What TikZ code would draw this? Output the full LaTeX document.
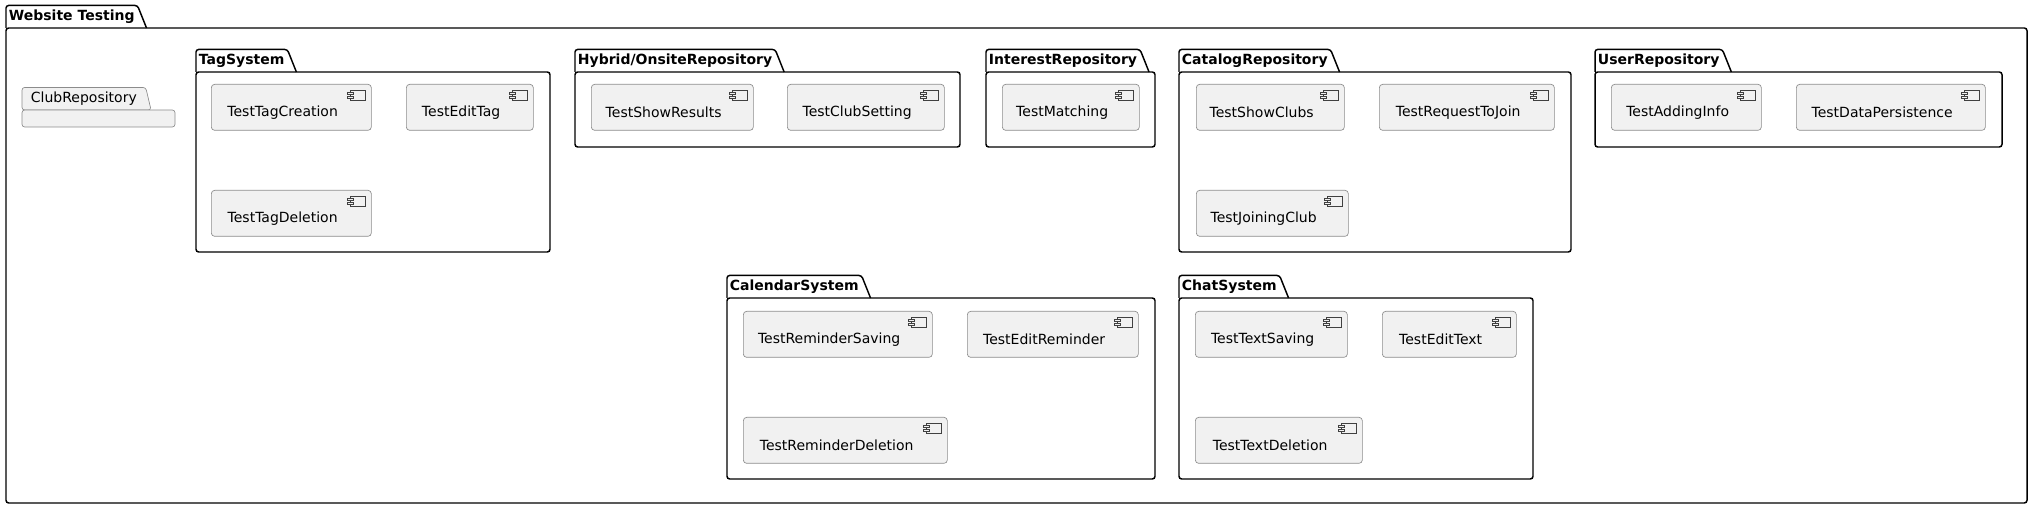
\documentclass[tikz,border=0pt]{standalone}
\usepackage{fontspec}
\setmainfont{DejaVu Sans}
\usetikzlibrary{positioning,calc,backgrounds}
\definecolor{compfill}{HTML}{F1F1F1}
\definecolor{compline}{HTML}{8C8C8C}
\newcommand{\ctext}[1]{\raisebox{-3.75pt}[\height][\depth]{#1}\hspace*{13pt}}

\begin{document}
\begin{tikzpicture}[x=0.75pt,y=-0.75pt,font=\fontsize{10.5pt}{12.6pt}\selectfont,
  pkgline/.style={draw=black,line width=1.1pt,rounded corners=2pt},
  pkgtitle/.style={anchor=south west,inner xsep=2pt,inner ysep=0pt,minimum height=16.5pt,font=\bfseries\fontsize{10.5pt}{12.6pt}\selectfont},
  icon/.style={draw=black!75,fill=compfill,line width=0.4pt,sharp corners},
  comp/.style={anchor=north west,draw=compline,fill=compfill,line width=0.5pt,rounded corners=2.5pt,minimum height=34.5pt,inner sep=0pt,
    path picture={\coordinate (ne) at (path picture bounding box.north east);
      \draw[icon] ($(ne)+(-15.75pt,-4.5pt)$) rectangle ($(ne)+(-4.5pt,-12pt)$);
      \draw[icon] ($(ne)+(-18pt,-6pt)$) rectangle ($(ne)+(-13.5pt,-7.8pt)$);
      \draw[icon] ($(ne)+(-18pt,-9pt)$) rectangle ($(ne)+(-13.5pt,-10.8pt)$);}}]
\useasboundingbox (0,0) rectangle (2032,509);

% outer package
\node[pkgtitle] (web) at (6,28) {Website Testing};
\draw[pkgline] (web.south west) -- (web.north west) -- (web.north east) -- ([xshift=6.75pt]web.south east);
\draw[pkgline] (6,28) rectangle (2027,503);

% empty package
\node[pkgtitle,font=\fontsize{10.5pt}{12.6pt}\selectfont,inner xsep=6.5pt] (club) at (22,110) {ClubRepository};
\begin{scope}[on background layer]
\draw[draw=compline,fill=compfill,line width=0.5pt,rounded corners=2pt] (club.south west) -- (club.north west) -- (club.north east) -- ([xshift=4pt]club.south east) -- cycle;
\draw[draw=compline,fill=compfill,line width=0.5pt,rounded corners=2pt] (22,110) rectangle (175,127);
\end{scope}

% top row
\node[pkgtitle] (tag) at (196,72) {TagSystem};
\draw[pkgline] (tag.south west) -- (tag.north west) -- (tag.north east) -- ([xshift=6.75pt]tag.south east);
\draw[pkgline] (196,72) rectangle (550,252);
\node[comp,minimum width=120pt] (tagcreate) at (211,84) {\ctext{TestTagCreation}};
\node[comp,minimum width=95.25pt] (tagedit) at (406,84) {\ctext{TestEditTag}};
\node[comp,minimum width=120pt] (tagdelete) at (211,190) {\ctext{TestTagDeletion}};

\node[pkgtitle] (hybrid) at (575,72) {Hybrid/OnsiteRepository};
\draw[pkgline] (hybrid.south west) -- (hybrid.north west) -- (hybrid.north east) -- ([xshift=6.75pt]hybrid.south east);
\draw[pkgline] (575,72) rectangle (960,147);
\node[comp,minimum width=121.5pt] (showres) at (591,84) {\ctext{TestShowResults}};
\node[comp,minimum width=117.75pt] (clubset) at (787,84) {\ctext{TestClubSetting}};

\node[pkgtitle] (interest) at (986,72) {InterestRepository};
\draw[pkgline] (interest.south west) -- (interest.north west) -- (interest.north east) -- ([xshift=6.75pt]interest.south east);
\draw[pkgline] (986,72) rectangle (1155,147);
\node[comp,minimum width=102.75pt] (matching) at (1002,84) {\ctext{TestMatching}};

\node[pkgtitle] (catalog) at (1179,72) {CatalogRepository};
\draw[pkgline] (catalog.south west) -- (catalog.north west) -- (catalog.north east) -- ([xshift=6.75pt]catalog.south east);
\draw[pkgline] (1179,72) rectangle (1571,252);
\node[comp,minimum width=111pt] (showclubs) at (1196,84) {\ctext{TestShowClubs}};
\node[comp,minimum width=131.25pt] (request) at (1379,84) {\ctext{TestRequestToJoin}};
\node[comp,minimum width=114pt] (joining) at (1196,190) {\ctext{TestJoiningClub}};

\node[pkgtitle] (user) at (1595,72) {UserRepository};
\draw[pkgline] (user.south west) -- (user.north west) -- (user.north east) -- ([xshift=6.75pt]user.south east);
\draw[pkgline] (1595,72) rectangle (2002,147);
\node[comp,minimum width=112.5pt] (adding) at (1611,84) {\ctext{TestAddingInfo}};
\node[comp,minimum width=141.75pt] (persist) at (1796,84) {\ctext{TestDataPersistence}};

% bottom row
\node[pkgtitle] (calendar) at (727,298) {CalendarSystem};
\draw[pkgline] (calendar.south west) -- (calendar.north west) -- (calendar.north east) -- ([xshift=6.75pt]calendar.south east);
\draw[pkgline] (727,298) rectangle (1155,479);
\node[comp,minimum width=141.75pt] (remsave) at (743,311) {\ctext{TestReminderSaving}};
\node[comp,minimum width=128.25pt] (remedit) at (967,311) {\ctext{TestEditReminder}};
\node[comp,minimum width=153pt] (remdelete) at (743,417) {\ctext{TestReminderDeletion}};

\node[pkgtitle] (chat) at (1179,298) {ChatSystem};
\draw[pkgline] (chat.south west) -- (chat.north west) -- (chat.north east) -- ([xshift=6.75pt]chat.south east);
\draw[pkgline] (1179,298) rectangle (1533,479);
\node[comp,minimum width=114pt] (textsave) at (1195,311) {\ctext{TestTextSaving}};
\node[comp,minimum width=100.5pt] (textedit) at (1382,311) {\ctext{TestEditText}};
\node[comp,minimum width=125.25pt] (textdelete) at (1195,417) {\ctext{TestTextDeletion}};
\end{tikzpicture}
\end{document}
